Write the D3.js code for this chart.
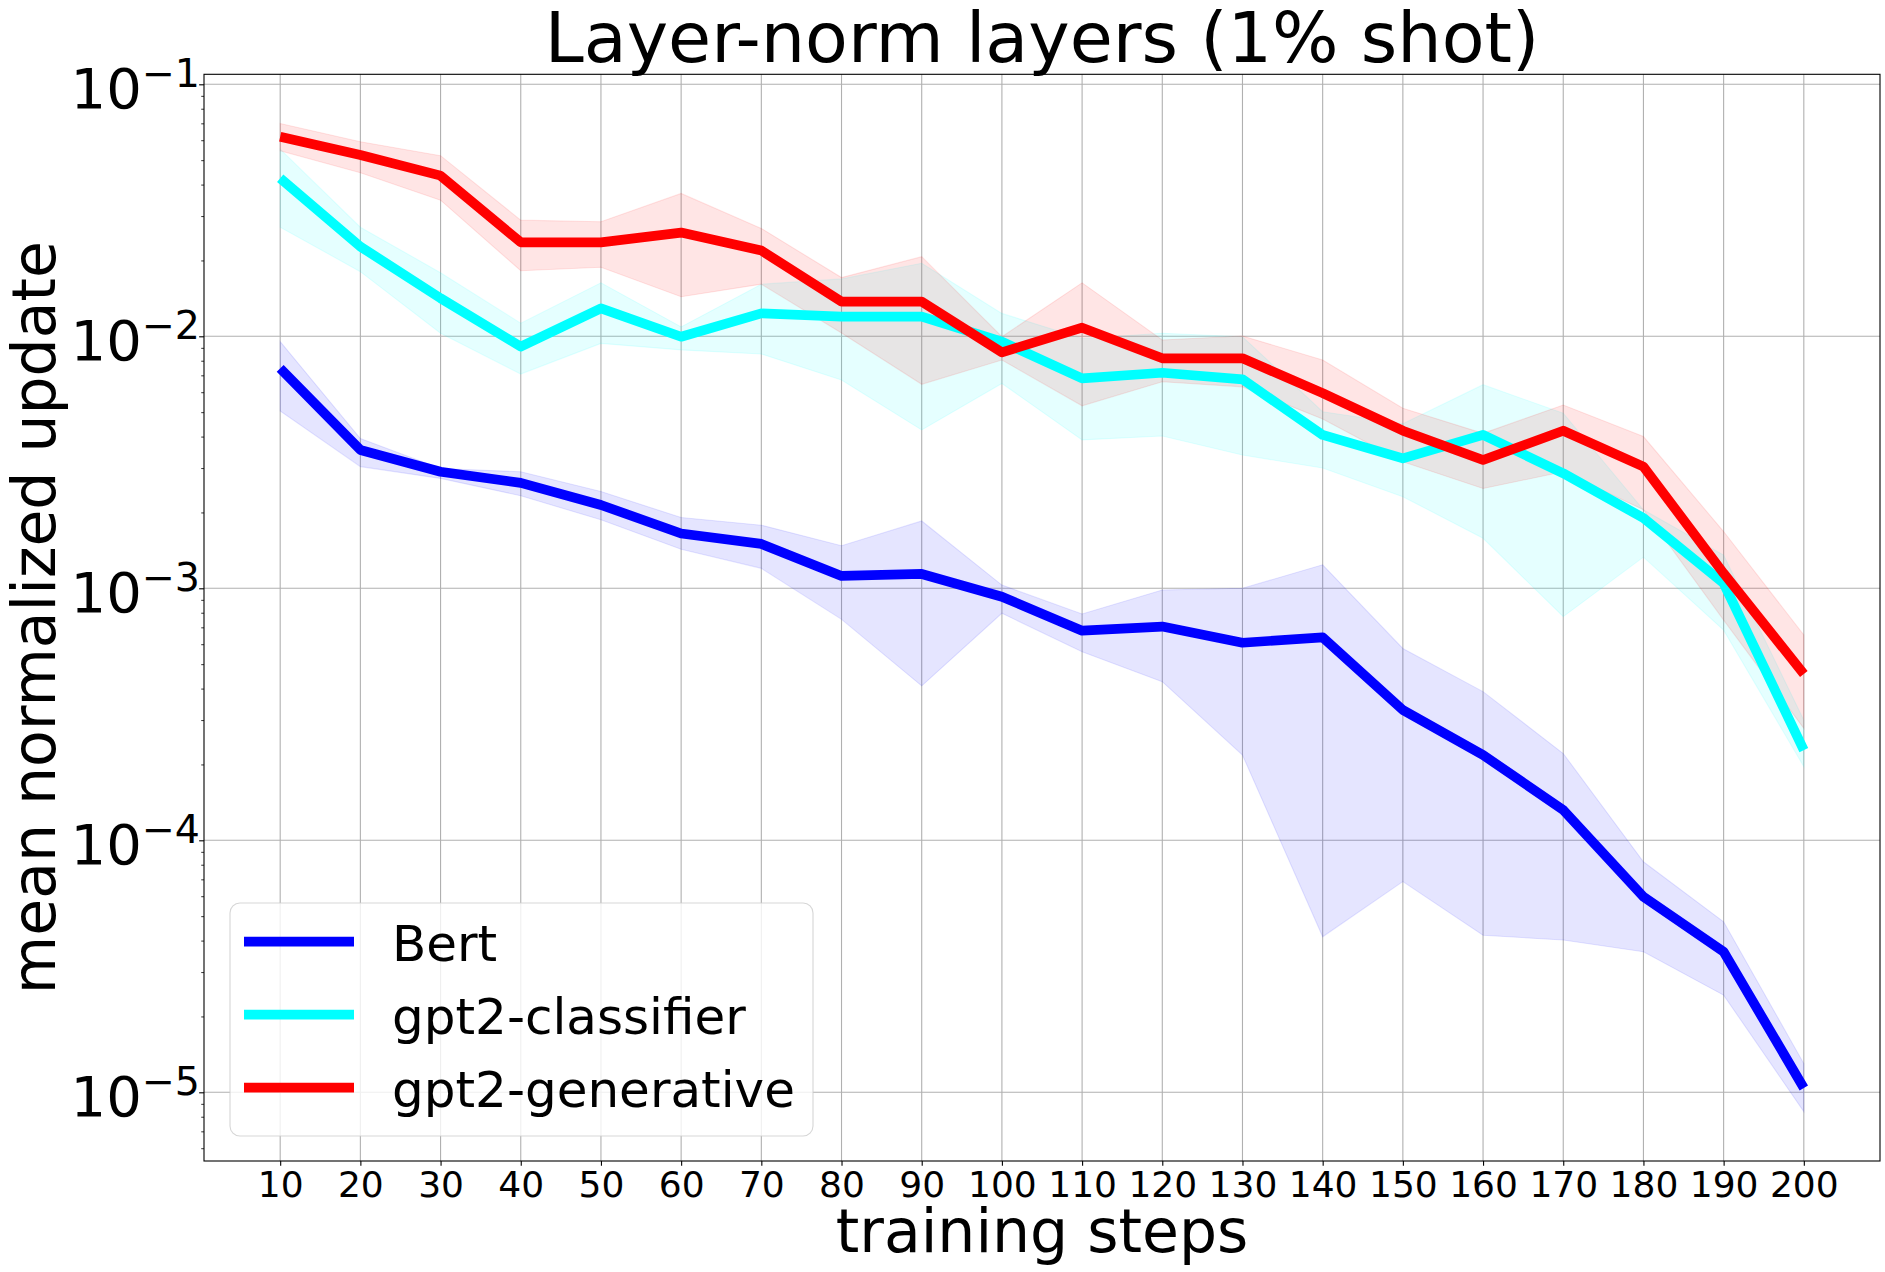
<!DOCTYPE html>
<html><head><meta charset="utf-8">
<script src="https://cdn.jsdelivr.net/npm/d3@7"></script>
<style>body{margin:0;background:#fff} svg{display:block}</style>
</head><body><svg id="c" width="1885" height="1272"></svg>
<script>
const steps = [10,20,30,40,50,60,70,80,90,100,110,120,130,140,150,160,170,180,190,200];

const bertMean = [0.00746,0.00354,0.0029,0.00262,0.00214,0.00165,0.0015,0.00112,0.00114,0.000926,0.000679,0.000705,0.000608,0.000639,0.000329,0.000218,0.000132,0.0000597,0.0000361,0.0000104];
const bertLow  = [0.00505,0.00304,0.00273,0.00233,0.00187,0.00143,0.0012,0.000753,0.00041,0.000796,0.00056,0.000426,0.000218,0.0000414,0.0000686,0.000042,0.0000402,0.0000361,0.0000243,0.00000838];
const bertHigh = [0.00953,0.00393,0.00299,0.0029,0.00242,0.00191,0.00178,0.001476,0.00185,0.00103,0.000791,0.000985,0.001,0.00124,0.000577,0.000389,0.000221,0.0000822,0.0000475,0.000013];

const clsMean = [0.0424,0.0227,0.01416,0.0091,0.0129,0.00996,0.01233,0.01196,0.01196,0.00952,0.00681,0.00717,0.00675,0.00406,0.00328,0.00406,0.00286,0.0019,0.001047,0.000228];
const clsLow  = [0.0271,0.01805,0.01028,0.00708,0.00937,0.00883,0.00851,0.00671,0.00425,0.0065,0.00388,0.00402,0.00338,0.003,0.00231,0.00158,0.000772,0.00133,0.000682,0.000196];
const clsHigh = [0.0553,0.0271,0.01788,0.01127,0.0163,0.0109,0.0161,0.0169,0.0195,0.01233,0.0098,0.01028,0.00996,0.00502,0.0045,0.00643,0.00495,0.00205,0.001355,0.0003];

const genMean = [0.0619,0.0524,0.0434,0.0236,0.0236,0.0258,0.0219,0.01372,0.01372,0.00864,0.01082,0.00818,0.00818,0.00595,0.00422,0.00323,0.00422,0.00304,0.001147,0.000457];
const genLow  = [0.0545,0.0446,0.0347,0.0182,0.0188,0.01436,0.0161,0.0103,0.00645,0.00805,0.0053,0.0066,0.0063,0.0047,0.00318,0.00249,0.0029,0.00205,0.000748,0.000278];
const genHigh = [0.0699,0.0592,0.0521,0.0289,0.0285,0.0369,0.0268,0.0171,0.0207,0.00996,0.0163,0.00967,0.01003,0.00805,0.00518,0.00412,0.00534,0.004,0.00168,0.000653];

const seriesNames = ["Bert","gpt2-classifier","gpt2-generative"];
const seriesColors = ["#0000ff","#00ffff","#ff0000"];
const yTickExps = [-1,-2,-3,-4,-5];

const title = "Layer-norm layers (1% shot)";
const xLabel = "training steps";
const yLabel = "mean normalized update";

const series = [
  {name:seriesNames[0], color:seriesColors[0], mean:bertMean, low:bertLow, high:bertHigh},
  {name:seriesNames[1], color:seriesColors[1], mean:clsMean, low:clsLow, high:clsHigh},
  {name:seriesNames[2], color:seriesColors[2], mean:genMean, low:genLow, high:genHigh}
];

const FONT = "'DejaVu Sans', sans-serif";
const L = 204, R = 1880, T = 74.3, B = 1161;
const svg = d3.select("#c");

const x = d3.scaleLinear().domain([0.5, 209.5]).range([L, R]);
const y = d3.scaleLog().domain([Math.pow(10,-5.2726), Math.pow(10,-0.9603)]).range([B, T]);

// grid
const grid = svg.append("g");
steps.forEach(s => grid.append("line").attr("x1",x(s)).attr("x2",x(s)).attr("y1",T).attr("y2",B)
  .attr("stroke","#b0b0b0").attr("stroke-width",1.1));
yTickExps.forEach(e => grid.append("line").attr("x1",L).attr("x2",R).attr("y1",y(Math.pow(10,e))).attr("y2",y(Math.pow(10,e)))
  .attr("stroke","#b0b0b0").attr("stroke-width",1.1));

// bands and lines
svg.append("clipPath").attr("id","pc").append("rect").attr("x",L).attr("y",T).attr("width",R-L).attr("height",B-T);
const plot = svg.append("g").attr("clip-path","url(#pc)");
series.forEach(sr => {
  const area = d3.area().x((d,i)=>x(steps[i])).y0((d,i)=>y(sr.low[i])).y1((d,i)=>y(sr.high[i]));
  plot.append("path").datum(steps).attr("d",area)
    .attr("fill",sr.color).attr("fill-opacity",0.1)
    .attr("stroke",sr.color).attr("stroke-opacity",0.1).attr("stroke-width",1.1);
});
series.forEach(sr => {
  const line = d3.line().x((d,i)=>x(steps[i])).y((d,i)=>y(sr.mean[i]));
  plot.append("path").datum(steps).attr("d",line)
    .attr("fill","none").attr("stroke",sr.color).attr("stroke-width",9.7)
    .attr("stroke-linejoin","round").attr("stroke-linecap","butt");
});

// x axis
const xAxis = d3.axisBottom(x).tickValues(steps).tickSize(4.86).tickPadding(5.2).tickFormat(d3.format("d"));
const gx = svg.append("g").attr("transform",`translate(0,${B})`).call(xAxis);
gx.select(".domain").remove();
gx.selectAll(".tick line").attr("stroke","#000").attr("stroke-width",1.1);
gx.selectAll(".tick text").attr("font-family",FONT).attr("font-size",36).attr("fill","#000");

// y axis ticks (major + minor)
const yAxis = d3.axisLeft(y).tickValues(yTickExps.map(e=>Math.pow(10,e))).tickSize(4.86).tickFormat("");
const gy = svg.append("g").attr("transform",`translate(${L},0)`).call(yAxis);
gy.select(".domain").remove();
gy.selectAll(".tick line").attr("stroke","#000").attr("stroke-width",1.1);
const minors = [];
const dom = y.domain();
for (let e=-6; e<=-1; e++) for (let m=2; m<=9; m++) { const v=m*Math.pow(10,e); if (v>=dom[0] && v<=dom[1]) minors.push(v); }
const yMinor = d3.axisLeft(y).tickValues(minors).tickSize(2.78).tickFormat("");
const gym = svg.append("g").attr("transform",`translate(${L},0)`).call(yMinor);
gym.select(".domain").remove();
gym.selectAll(".tick line").attr("stroke","#000").attr("stroke-width",0.8);

// y tick labels with superscripts
yTickExps.forEach(e => {
  const ty = y(Math.pow(10,e));
  const t = svg.append("text").attr("x",200).attr("y",ty+24).attr("text-anchor","end")
    .attr("font-family",FONT).attr("font-size",56).attr("fill","#000");
  t.append("tspan").text("10");
  t.append("tspan").attr("dy",-21.6).attr("font-size",39.5).text("\u2212"+Math.abs(e));
});

// spines
svg.append("rect").attr("x",L).attr("y",T).attr("width",R-L).attr("height",B-T)
  .attr("fill","none").attr("stroke","#000").attr("stroke-width",1.1);

// title and labels
svg.append("text").attr("x",(L+R)/2).attr("y",61.7).attr("text-anchor","middle")
  .attr("font-family",FONT).attr("font-size",70).attr("fill","#000").text(title);
svg.append("text").attr("x",(L+R)/2).attr("y",1251.7).attr("text-anchor","middle")
  .attr("font-family",FONT).attr("font-size",60).attr("fill","#000").text(xLabel);
svg.append("text").attr("transform",`translate(54.5,${(T+B)/2}) rotate(-90)`).attr("text-anchor","middle")
  .attr("font-family",FONT).attr("font-size",60).attr("fill","#000").text(yLabel);

// legend
const lg = svg.append("g");
lg.append("rect").attr("x",230).attr("y",903).attr("width",583).attr("height",233).attr("rx",10)
  .attr("fill","#fff").attr("fill-opacity",0.8).attr("stroke","#cccccc").attr("stroke-opacity",0.8).attr("stroke-width",1.1);
series.forEach((sr,i) => {
  const cy = 941.7 + i*73;
  lg.append("line").attr("x1",244).attr("x2",354).attr("y1",cy).attr("y2",cy)
    .attr("stroke",sr.color).attr("stroke-width",9.7);
  lg.append("text").attr("x",392).attr("y",cy+19.3).attr("font-family",FONT).attr("font-size",50)
    .attr("fill","#000").text(sr.name);
});
</script></body></html>
